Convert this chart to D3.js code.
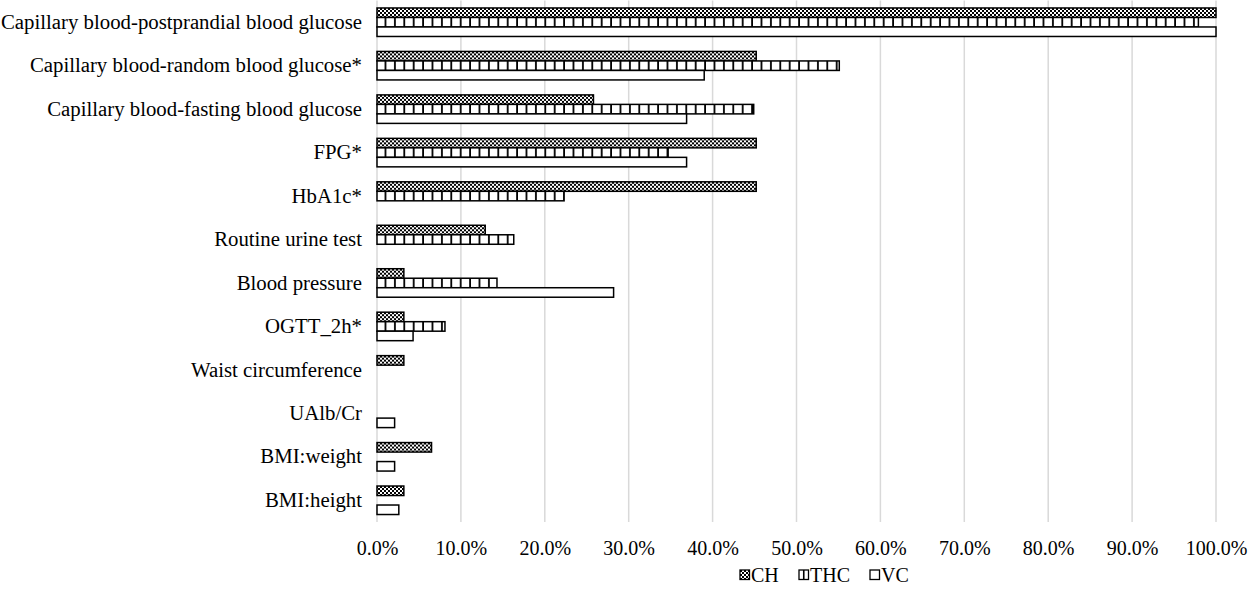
<!DOCTYPE html>
<html>
<head>
<meta charset="utf-8">
<script src="https://cdn.jsdelivr.net/npm/d3@7"></script>
<style>
    body { margin: 0; background: #fff; }
    text { font-family: "Liberation Serif", "Times New Roman", serif; fill: #000; }
</style>
</head>
<body>
<svg id="chart" width="1248" height="598"></svg>
<script>
"use strict";

var categories = [
	"Capillary blood-postprandial blood glucose",
	"Capillary blood-random blood glucose*",
	"Capillary blood-fasting blood glucose",
	"FPG*",
	"HbA1c*",
	"Routine urine test",
	"Blood pressure",
	"OGTT_2h*",
	"Waist circumference",
	"UAlb/Cr",
	"BMI:weight",
	"BMI:height"
    ],
    seriesNames = ["CH", "THC", "VC"],
    chValues = [100, 45.2, 25.8, 45.2, 45.2, 12.9, 3.2, 3.2, 3.2, 0, 6.5, 3.2],
    thcValues = [97.9, 55.1, 44.9, 34.7, 22.3, 16.3, 14.3, 8.1, 0, 0, 0, 0],
    vcValues = [100, 39.0, 36.9, 36.9, 0, 0, 28.2, 4.3, 0, 2.1, 2.1, 2.6],
    tickValues = [0, 10, 20, 30, 40, 50, 60, 70, 80, 90, 100],

    plotLeft = 377,
    plotRight = 1216,
    plotTop = 0.5,
    plotBottom = 522,
    barHeight = 9.5,
    labelX = 362,
    legendSize = 9.5;

var svg = d3.select("#chart");

var defs = svg.append("defs");

// CH: small checker board
var checker = defs.append("pattern")
    .attr("id", "pat-ch")
    .attr("patternUnits", "userSpaceOnUse")
    .attr("width", 4)
    .attr("height", 4);
checker.append("rect").attr("width", 4).attr("height", 4).attr("fill", "#fff");
checker.append("rect").attr("width", 2).attr("height", 2).attr("fill", "#000");
checker.append("rect").attr("x", 2).attr("y", 2).attr("width", 2).attr("height", 2).attr("fill", "#000");

// THC: wide vertical lines
var vlines = defs.append("pattern")
    .attr("id", "pat-thc")
    .attr("patternUnits", "userSpaceOnUse")
    .attr("x", plotLeft)
    .attr("width", 9.4)
    .attr("height", 10);
vlines.append("rect").attr("width", 9.4).attr("height", 10).attr("fill", "#fff");
vlines.append("rect").attr("x", 7.6).attr("width", 1.8).attr("height", 10).attr("fill", "#000");

var fills = {CH: "url(#pat-ch)", THC: "url(#pat-thc)", VC: "#fff"};

var x = d3.scaleLinear()
    .domain([0, 100])
    .range([plotLeft, plotRight]);

var y = d3.scaleBand()
    .domain(categories)
    .range([plotTop, plotBottom]);

var ySub = d3.scaleBand()
    .domain(seriesNames)
    .range([0, barHeight * 3]);

// gridlines
svg.append("g")
    .selectAll("line")
    .data(tickValues)
    .enter().append("line")
    .attr("x1", function(d) { return x(d); })
    .attr("x2", function(d) { return x(d); })
    .attr("y1", plotTop)
    .attr("y2", plotBottom)
    .attr("stroke", "#d9d9d9")
    .attr("stroke-width", 1.5);

// x axis labels
var xAxis = d3.axisBottom(x)
    .tickValues(tickValues)
    .tickSize(0)
    .tickPadding(0)
    .tickFormat(function(d) { return d3.format(".1f")(d) + "%"; });

svg.append("g")
    .attr("transform", "translate(0," + 541 + ")")
    .call(xAxis)
    .call(function(g) { g.select(".domain").remove(); })
    .selectAll("text")
    .attr("font-size", 20)
    .attr("font-family", "Liberation Serif");

// category labels
var yAxis = d3.axisLeft(y)
    .tickSize(0)
    .tickPadding(0);

svg.append("g")
    .attr("transform", "translate(" + labelX + ",0)")
    .call(yAxis)
    .call(function(g) { g.select(".domain").remove(); })
    .selectAll("text")
    .attr("font-size", 20.8)
    .attr("font-family", "Liberation Serif");

// bars
var rows = categories.map(function(c, i) {
    return {
	category: c,
	values: [
	    {series: "CH", value: chValues[i]},
	    {series: "THC", value: thcValues[i]},
	    {series: "VC", value: vcValues[i]}
	]
    };
});

var groups = svg.append("g")
    .selectAll("g.group")
    .data(rows)
    .enter().append("g")
    .attr("class", "group")
    .attr("transform", function(d) {
	return "translate(0," + (y(d.category) + (y.bandwidth() - barHeight * 3) / 2) + ")";
    });

groups.selectAll("rect")
    .data(function(d) {
	return d.values.filter(function(v) { return v.value > 0; });
    })
    .enter().append("rect")
    .attr("x", x(0))
    .attr("y", function(d) { return ySub(d.series); })
    .attr("width", function(d) { return x(d.value) - x(0); })
    .attr("height", ySub.bandwidth())
    .attr("fill", function(d) { return fills[d.series]; })
    .attr("stroke", "#000")
    .attr("stroke-width", 1.5);

// legend
var legendItems = [
    {series: "CH", x: 740},
    {series: "THC", x: 799},
    {series: "VC", x: 870}
];

var legend = svg.append("g")
    .selectAll("g.legend")
    .data(legendItems)
    .enter().append("g")
    .attr("class", "legend")
    .attr("transform", function(d) { return "translate(" + d.x + ",570)"; });

legend.append("rect")
    .attr("width", legendSize)
    .attr("height", legendSize)
    .attr("fill", function(d) { return d.series === "THC" ? "#fff" : fills[d.series]; })
    .attr("stroke", "#000")
    .attr("stroke-width", 1.3);

legend.filter(function(d) { return d.series === "THC"; })
    .append("line")
    .attr("x1", legendSize / 2)
    .attr("x2", legendSize / 2)
    .attr("y1", 0)
    .attr("y2", legendSize)
    .attr("stroke", "#000")
    .attr("stroke-width", 1.6);

legend.append("text")
    .attr("x", legendSize + 1.5)
    .attr("y", 12)
    .attr("font-size", 20)
    .text(function(d) { return d.series; });
</script>
</body>
</html>
